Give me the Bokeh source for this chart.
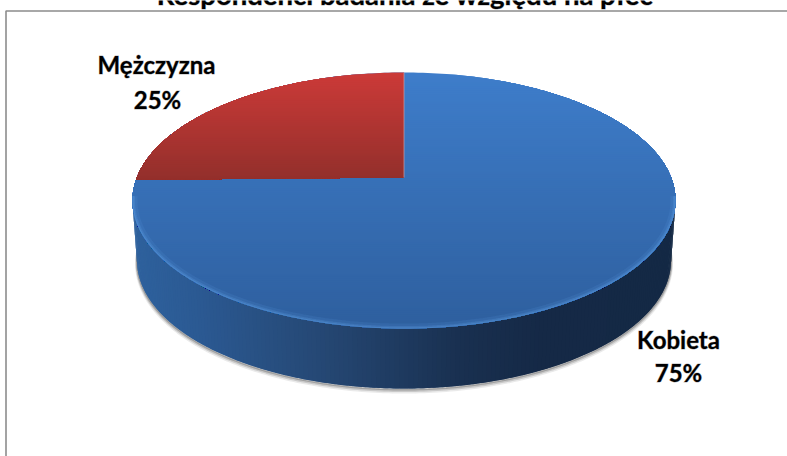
import math
import numpy as np
from bokeh.plotting import figure
from bokeh.core.properties import value
from bokeh.embed import file_html
from bokeh.resources import INLINE

title = "Respondenci badania ze względu na płeć"
categories = ["Kobieta", "Mężczyzna"]
shares = [75, 25]
percent_labels = ["75%", "25%"]

W, H = 787, 456
CX, CY, RX, RY = 403.5, 200.0, 271.5, 128.0
BX, BY, BRX, BRY = 403.5, 260.0, 267.0, 128.0
A = (200 - 177) / 128.0


def rim(f, gain=1.0):
    """Perspective position on the pie's top rim for a clockwise fraction f from 12 o'clock."""
    th = math.pi / 2 - 2 * math.pi * f * gain
    u, v = math.cos(th), math.sin(th)
    d = 1 + A * v
    return (CX + RX * u * math.sqrt(1 - A * A) / d, CY - RY * (v + A) / d)


def clip_below(pts, ymin):
    out = []
    n = len(pts)
    for i in range(n):
        a, b = pts[i], pts[(i + 1) % n]
        ina, inb = a[1] >= ymin, b[1] >= ymin
        if ina:
            out.append(a)
        if ina != inb:
            t = (ymin - a[1]) / (b[1] - a[1])
            out.append((a[0] + t * (b[0] - a[0]), ymin))
    return out


def mix(c1, c2, t):
    t = max(0.0, min(1.0, t))
    r = [round(c1[i] + (c2[i] - c1[i]) * t) for i in range(3)]
    return "#%02x%02x%02x" % tuple(r)


def interp(stops, t):
    for (t0, c0), (t1, c1) in zip(stops, stops[1:]):
        if t <= t1:
            return mix(c0, c1, (t - t0) / (t1 - t0))
    return mix(stops[-1][1], stops[-1][1], 0)


p = figure(width=W, height=H, x_range=(0, W), y_range=(H, 0),
           output_backend="svg", toolbar_location=None, min_border=0)
p.axis.visible = False
p.grid.visible = False
p.outline_line_color = None
p.background_fill_color = "white"
p.border_fill_color = "white"

# chart frame
p.line([5.5, 5.5, W + 2], [H + 2, 10.5, 10.5], line_color="#8c8c8c", line_width=1.6)

ts = np.linspace(0, 2 * math.pi, 361)
ell_x = CX + RX * np.cos(ts)
ell_y = CY + RY * np.sin(ts)
top_pts = list(zip(ell_x, ell_y))

# soft shadow under the side wall
low = np.linspace(math.radians(-5), math.radians(185), 200)
for off, alpha, lw in [(3.0, 0.12, 4), (2.0, 0.22, 3), (1.0, 0.36, 2)]:
    p.line(BX + BRX * np.cos(low), BY + off + BRY * np.sin(low),
           line_color="#555555", line_alpha=alpha, line_width=lw)

# side wall
side_stops = [(0.0, (46, 97, 157)), (0.12, (43, 89, 146)), (0.35, (37, 71, 115)),
              (0.6, (25, 48, 80)), (0.75, (21, 41, 70)), (1.0, (20, 41, 69))]
n = 180
angs = np.linspace(math.pi, 0, n + 1)
for i in range(n):
    a1, a2 = angs[i], angs[min(i + 2, n)]
    sub = np.linspace(a1, a2, 4)
    tx = CX + RX * np.cos(sub)
    ty = CY + RY * np.sin(sub)
    bx = BX + BRX * np.cos(sub[::-1])
    by = BY + BRY * np.sin(sub[::-1])
    frac = (CX + RX * math.cos(angs[i]) - (CX - RX)) / (2 * RX)
    col = interp(side_stops, frac)
    p.patch(list(tx) + list(bx), list(ty) + list(by), fill_color=col, line_color=None)

# top face, blue slice (whole disc first, red slice on top)
blue_top, blue_bot = (62, 125, 202), (46, 95, 158)
red_top, red_bot = (203, 58, 56), (146, 47, 43)
ys = np.arange(CY - RY, CY + RY, 2.0)
for y in ys:
    poly = clip_below(top_pts, y)
    if len(poly) > 2:
        t = (y - (CY - RY)) / (2 * RY)
        p.patch([q[0] for q in poly], [q[1] for q in poly],
                fill_color=mix(blue_top, blue_bot, t), line_color=None)

# rim highlight
rim_t = np.linspace(math.radians(-2), math.radians(182), 200)
for inset, alpha, lw in [(2.5, 0.14, 5), (1.2, 0.25, 2.5), (0.4, 0.4, 1.2)]:
    p.line(CX + (RX - inset) * np.cos(rim_t), CY + (RY - inset) * np.sin(rim_t),
           line_color="#5b9be0", line_alpha=alpha, line_width=lw)

# red slice, from the real share
f_red = shares[1] / sum(shares)
apex = (CX, CY - RY * A)
wedge = [apex] + [rim(-f_red * i / 90, 1.012) for i in range(91)]
wedge = wedge[::-1]
wy_min = min(q[1] for q in wedge)
wy_max = max(q[1] for q in wedge)
for y in np.arange(wy_min, wy_max, 2.0):
    poly = clip_below(wedge, y)
    if len(poly) > 2:
        t = (y - wy_min) / (wy_max - wy_min)
        p.patch([q[0] for q in poly], [q[1] for q in poly],
                fill_color=mix(red_top, red_bot, t), line_color=None)
p.line([apex[0], apex[0]], [apex[1], CY - RY], line_color="#c9a0a8", line_alpha=0.7, line_width=1)

# texts
bold = dict(text_font=value("Lato"), text_font_style="bold", text_color="#000000",
            text_align="center", text_baseline="alphabetic",
            outline_color="#00000055")
p.text([404.5], [-6.5], text=[title], text_font_size="27.5px", **bold)
p.text([156, 157], [63.5, 98.5], text=[categories[1], percent_labels[1]], text_font_size="24px", **bold)
p.text([678, 678], [338.5, 371.5], text=[categories[0], percent_labels[0]], text_font_size="24px", **bold)

open("out.html", "w").write(file_html(p, INLINE))
